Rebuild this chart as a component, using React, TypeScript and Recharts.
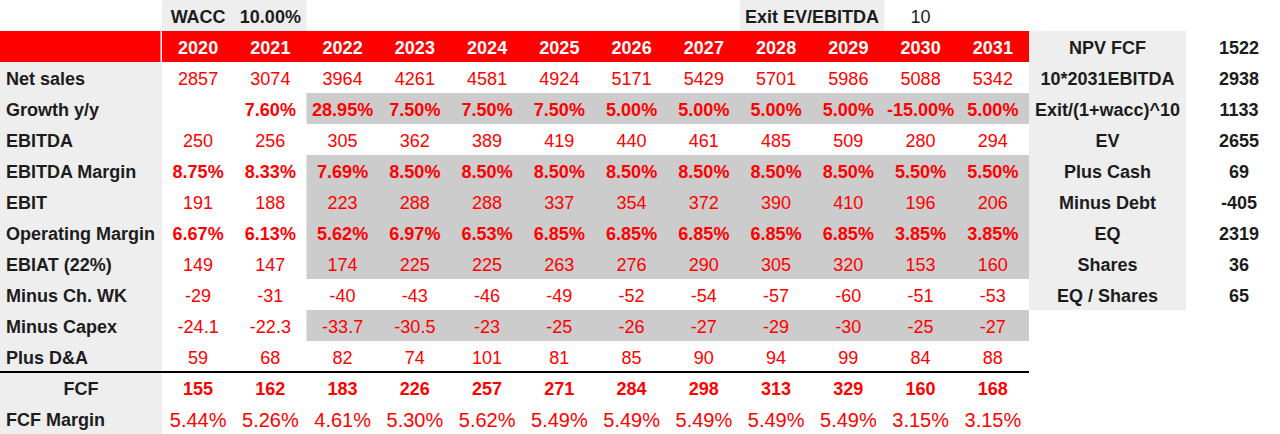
import { ScatterChart, Scatter, XAxis, YAxis, ReferenceArea, ReferenceLine } from 'recharts';

const years = ['2020', '2021', '2022', '2023', '2024', '2025', '2026', '2027', '2028', '2029', '2030', '2031'];
const netSales = [2857, 3074, 3964, 4261, 4581, 4924, 5171, 5429, 5701, 5986, 5088, 5342];
const growth = [null, 7.6, 28.95, 7.5, 7.5, 7.5, 5, 5, 5, 5, -15, 5];
const ebitda = [250, 256, 305, 362, 389, 419, 440, 461, 485, 509, 280, 294];
const ebitdaMargin = [8.75, 8.33, 7.69, 8.5, 8.5, 8.5, 8.5, 8.5, 8.5, 8.5, 5.5, 5.5];
const ebit = [191, 188, 223, 288, 288, 337, 354, 372, 390, 410, 196, 206];
const opMargin = [6.67, 6.13, 5.62, 6.97, 6.53, 6.85, 6.85, 6.85, 6.85, 6.85, 3.85, 3.85];
const ebiat = [149, 147, 174, 225, 225, 263, 276, 290, 305, 320, 153, 160];
const chWk = [-29, -31, -40, -43, -46, -49, -52, -54, -57, -60, -51, -53];
const capex = [-24.1, -22.3, -33.7, -30.5, -23, -25, -26, -27, -29, -30, -25, -27];
const da = [59, 68, 82, 74, 101, 81, 85, 90, 94, 99, 84, 88];
const fcf = [155, 162, 183, 226, 257, 271, 284, 298, 313, 329, 160, 168];
const fcfMargin = [5.44, 5.26, 4.61, 5.3, 5.62, 5.49, 5.49, 5.49, 5.49, 5.49, 3.15, 3.15];

const rowKeys = ['top', 'header', 'netSales', 'growth', 'ebitda', 'ebitdaMargin', 'ebit', 'opMargin', 'ebiat', 'chWk', 'capex', 'da', 'fcf', 'fcfMargin'];
const rowLabels = ['', '', 'Net sales', 'Growth y/y', 'EBITDA', 'EBITDA Margin', 'EBIT', 'Operating Margin', 'EBIAT (22%)', 'Minus Ch. WK', 'Minus Capex', 'Plus D&A', 'FCF', 'FCF Margin'];

// inputs shown in the top row
const topRow: Record<string, string> = { '2020': 'WACC', '2021': '10.00%', '2028': 'Exit EV/EBITDA', '2030': '10' };

// valuation block on the right, starting at the header row
const panelLabels = ['NPV FCF', '10*2031EBITDA', 'Exit/(1+wacc)^10', 'EV', 'Plus Cash', 'Minus Debt', 'EQ', 'Shares', 'EQ / Shares'];
const panelValues = [1522, 2938, 1133, 2655, 69, -405, 2319, 36, 65];

const W = 1280;
const H = 434;
const LABEL_W = 162;
const PANEL_W = 251;
const PANEL_LABEL_W = 157;
const bandW = (W - LABEL_W - PANEL_W) / years.length;
const bandH = H / rowKeys.length;

const RED = '#ff0000';
const DARK = '#1c1c1c';
const LIGHT = '#eeeeee';
const SHADE = '#cccccc';
const FONT = '"Liberation Sans", Arial, sans-serif';
const FS = 18;

const pct = (v: number | null) => (v == null ? '' : v.toFixed(2) + '%');
const num = (v: number) => String(v);

const rowTexts: Record<string, string[]> = {
  top: years.map((y) => topRow[y] ?? ''),
  header: years,
  netSales: netSales.map(num),
  growth: growth.map(pct),
  ebitda: ebitda.map(num),
  ebitdaMargin: ebitdaMargin.map(pct),
  ebit: ebit.map(num),
  opMargin: opMargin.map(pct),
  ebiat: ebiat.map(num),
  chWk: chWk.map(num),
  capex: capex.map(num),
  da: da.map(num),
  fcf: fcf.map(num),
  fcfMargin: fcfMargin.map(pct),
};

const cells = rowKeys.flatMap((row) => years.map((year, i) => ({ year, row, text: rowTexts[row][i] })));

const boldRows = ['growth', 'ebitdaMargin', 'opMargin', 'fcf'];

const CellText = (props: any) => {
  const { cx, cy, payload } = props;
  const { row, year, text } = payload;
  if (!text) return <g />;
  let fill = RED;
  let weight = boldRows.includes(row) ? 'bold' : 'normal';
  let anchor = 'middle';
  let x = cx;
  let size = FS;
  if (row === 'header') {
    fill = '#ffffff';
    weight = 'bold';
  } else if (row === 'top') {
    fill = DARK;
    weight = year === '2030' ? 'normal' : 'bold';
    if (year === '2028') {
      anchor = 'start';
      x = cx - bandW / 2 + 5;
    }
  } else if (row === 'fcfMargin') {
    size = 20;
  }
  return (
    <text x={x} y={cy + (size === 20 ? 8 : 7)} textAnchor={anchor} fill={fill} fontWeight={weight} fontSize={size} fontFamily={FONT}>
      {text}
    </text>
  );
};

const LeftTick = (props: any) => {
  const { x, y, payload } = props;
  const row = payload.value;
  const i = rowKeys.indexOf(row);
  const top = y - bandH / 2;
  const left = x - LABEL_W;
  const bg = row === 'top' ? 'none' : row === 'header' ? RED : LIGHT;
  const centered = row === 'fcf';
  return (
    <g>
      <rect x={left} y={top} width={row === 'header' ? LABEL_W - 1.5 : LABEL_W} height={bandH} fill={bg} />
      {row === 'fcf' && <line x1={left} x2={x + 1} y1={top} y2={top} stroke="#000" strokeWidth={2} />}
      <text
        x={centered ? left + LABEL_W / 2 : left + 6}
        y={y + 7}
        textAnchor={centered ? 'middle' : 'start'}
        fill={DARK}
        fontWeight="bold"
        fontSize={FS}
        fontFamily={FONT}
      >
        {rowLabels[i]}
      </text>
    </g>
  );
};

const RightTick = (props: any) => {
  const { x, y, payload } = props;
  const k = rowKeys.indexOf(payload.value) - 1;
  if (k < 0 || k >= panelLabels.length) return <g />;
  const top = y - bandH / 2;
  return (
    <g>
      <rect x={x} y={top} width={PANEL_LABEL_W} height={bandH} fill={LIGHT} />
      <text x={x + PANEL_LABEL_W / 2} y={y + 7} textAnchor="middle" fill={DARK} fontWeight="bold" fontSize={FS} fontFamily={FONT}>
        {panelLabels[k]}
      </text>
      <text x={x + 210} y={y + 7} textAnchor="middle" fill={DARK} fontWeight="bold" fontSize={FS} fontFamily={FONT}>
        {panelValues[k]}
      </text>
    </g>
  );
};

export default function App() {
  return (
    <div style={{ position: 'absolute', left: 0, top: 0, width: W, height: H, background: '#fff' }}>
      <ScatterChart width={W} height={H} margin={{ top: 0, right: 0, bottom: 0, left: 0 }}>
        <XAxis dataKey="year" type="category" allowDuplicatedCategory={false} hide />
        <YAxis
          dataKey="row"
          type="category"
          allowDuplicatedCategory={false}
          reversed
          width={LABEL_W}
          interval={0}
          tickSize={0}
          tickMargin={0}
          tickLine={false}
          axisLine={false}
          tick={LeftTick}
        />
        <YAxis
          yAxisId="panel"
          orientation="right"
          dataKey="row"
          type="category"
          allowDuplicatedCategory={false}
          reversed
          width={PANEL_W}
          interval={0}
          tickSize={0}
          tickMargin={0}
          tickLine={false}
          axisLine={false}
          tick={RightTick}
        />
        <ReferenceArea x1="2020" x2="2021" y1="top" y2="top" fill={LIGHT} fillOpacity={1} />
        <ReferenceArea x1="2028" x2="2029" y1="top" y2="top" fill={LIGHT} fillOpacity={1} />
        <ReferenceArea x1="2020" x2="2031" y1="header" y2="header" fill={RED} fillOpacity={1} />
        <ReferenceArea x1="2022" x2="2031" y1="growth" y2="growth" fill={SHADE} fillOpacity={1} />
        <ReferenceArea x1="2022" x2="2031" y1="ebitdaMargin" y2="ebiat" fill={SHADE} fillOpacity={1} />
        <ReferenceArea x1="2022" x2="2031" y1="capex" y2="capex" fill={SHADE} fillOpacity={1} />
        <ReferenceLine y="fcf" position="start" stroke="#000" strokeWidth={2} />
        <Scatter data={cells} shape={CellText} isAnimationActive={false} />
        <Scatter data={cells} yAxisId="panel" shape={() => <g />} isAnimationActive={false} />
      </ScatterChart>
    </div>
  );
}
